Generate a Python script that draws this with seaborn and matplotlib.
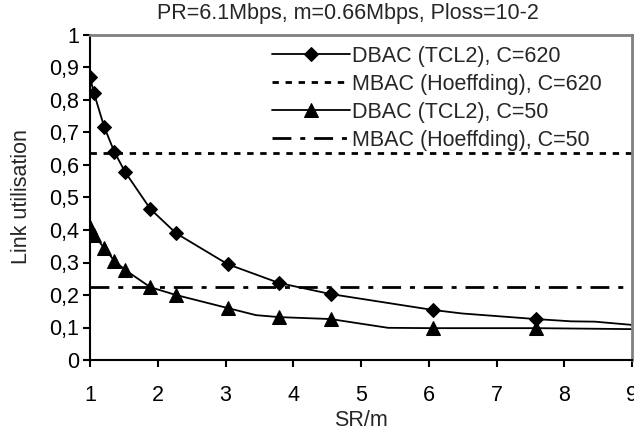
import matplotlib
matplotlib.use("Agg")
import matplotlib.pyplot as plt
import seaborn as sns
import pandas as pd
from matplotlib.ticker import FuncFormatter, MultipleLocator

# values (x = SR/m)
sr_620 = [1.0, 1.06, 1.21, 1.36, 1.52, 1.89, 2.27, 3.03, 3.79, 4.55, 6.06, 6.5, 7.58, 8.1, 8.45, 9.0]
util_620 = [0.87, 0.82, 0.717, 0.64, 0.578, 0.465, 0.39, 0.295, 0.237, 0.203, 0.154, 0.143, 0.126, 0.119, 0.118, 0.108]
marked_620 = [1, 1, 1, 1, 1, 1, 1, 1, 1, 1, 1, 0, 1, 0, 0, 0]

sr_50 = [1.0, 1.06, 1.21, 1.36, 1.52, 1.89, 2.27, 3.03, 3.45, 3.79, 4.55, 5.4, 6.06, 7.58, 9.0]
util_50 = [0.409, 0.385, 0.344, 0.305, 0.277, 0.224, 0.2, 0.16, 0.138, 0.132, 0.126, 0.099, 0.098, 0.098, 0.095]
marked_50 = [1, 1, 1, 1, 1, 1, 1, 1, 0, 1, 1, 0, 1, 1, 0]

mbac_620 = 0.638
mbac_50 = 0.226

labels = ["DBAC (TCL2), C=620", "MBAC (Hoeffding), C=620",
          "DBAC (TCL2), C=50", "MBAC (Hoeffding), C=50"]
title = "PR=6.1Mbps, m=0.66Mbps, Ploss=10-2"

sns.set_theme(style="white")
plt.rcParams['font.family'] = ['Liberation Sans', 'DejaVu Sans']
fs = 15.5

fig = plt.figure(figsize=(6.34, 4.34), dpi=100)
ax = fig.add_axes([90 / 634, 1 - 360 / 434, 542 / 634, 325 / 434])

df620 = pd.DataFrame({"x": sr_620, "y": util_620})
df50 = pd.DataFrame({"x": sr_50, "y": util_50})
idx620 = [i for i, m in enumerate(marked_620) if m]
idx50 = [i for i, m in enumerate(marked_50) if m]

sns.lineplot(data=df620, x="x", y="y", ax=ax, color="black", lw=1.3,
             marker="D", markersize=7, markevery=idx620, markeredgecolor="black",
             estimator=None, sort=False, label=labels[0])
ax.axhline(mbac_620, color="black", lw=2.0, linestyle=(0, (2.3, 2.4)), label=labels[1])
sns.lineplot(data=df50, x="x", y="y", ax=ax, color="black", lw=1.3,
             marker="^", markersize=10.5, markevery=idx50, markeredgecolor="black",
             estimator=None, sort=False, label=labels[2])
ax.axhline(mbac_50, color="black", lw=2.0, linestyle=(0, (6.8, 3.2, 1.8, 3.2)), label=labels[3])

ax.set_xlim(1, 9)
ax.set_ylim(0, 1)
ax.xaxis.set_major_locator(MultipleLocator(1))
ax.yaxis.set_major_locator(MultipleLocator(0.1))
ax.yaxis.set_major_formatter(FuncFormatter(lambda v, p: ('%g' % round(v, 1)).replace('.', ',')))
ax.tick_params(axis="both", direction="out", length=5, width=1.5, colors="black",
               labelsize=fs, left=True, bottom=True)
ax.tick_params(axis="x", pad=13)
ax.tick_params(axis="y", pad=3)

for s in ["left", "bottom"]:
    ax.spines[s].set_color("black")
    ax.spines[s].set_linewidth(1.5)
for s in ["top", "right"]:
    ax.spines[s].set_color("#808080")
    ax.spines[s].set_linewidth(2)

ax.set_xlabel("")
ax.set_ylabel("")
fig.text(361 / 634, 1 - 421 / 434, "SR/m", ha="center", va="center", fontsize=fs)
fig.text(22 / 634, 1 - 197 / 434, "Link utilisation", ha="center", va="center",
         rotation=90, fontsize=fs)
fig.text(348 / 634, 1 - 14 / 434, title, ha="center", va="center", fontsize=fs)

ax.legend(loc="upper left", bbox_to_anchor=(272 / 634, 1 - 46 / 434),
          bbox_transform=fig.transFigure, frameon=False, fontsize=fs,
          handlelength=3.6, handletextpad=0.1, labelspacing=0.32,
          borderpad=0, borderaxespad=0)

fig.savefig("out.png", dpi=100)
